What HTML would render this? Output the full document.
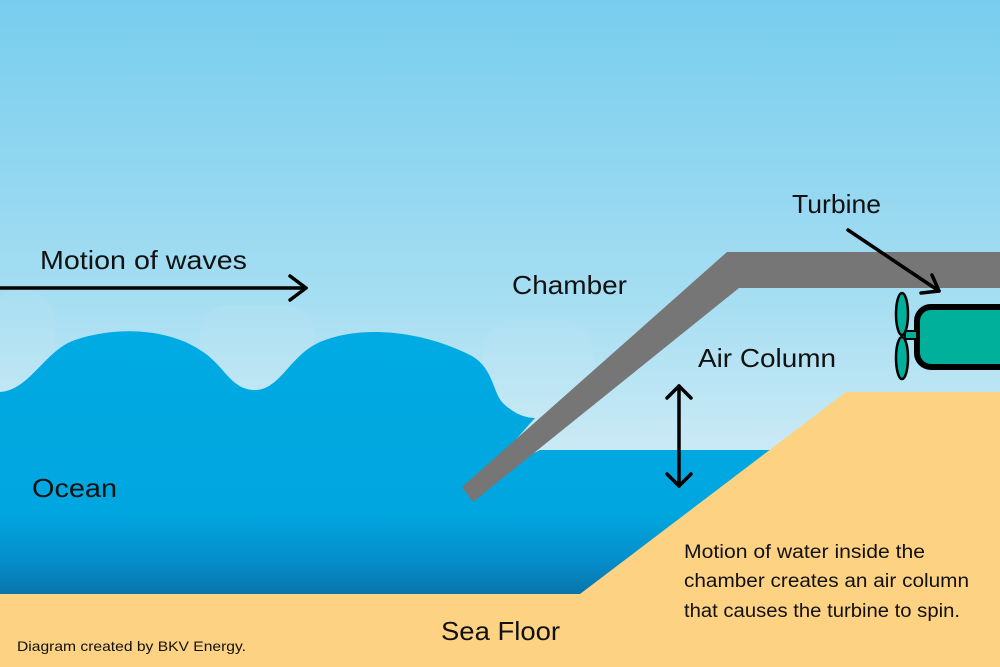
<!DOCTYPE html>
<html><head><meta charset="utf-8"><style>
html,body{margin:0;padding:0;}
svg{display:block;}
text{font-family:"Liberation Sans",sans-serif;fill:#111;}
</style></head><body>
<svg width="1000" height="667" viewBox="0 0 1000 667" xmlns="http://www.w3.org/2000/svg">
<defs>
<linearGradient id="sky" x1="0" y1="0" x2="0" y2="1">
<stop offset="0" stop-color="#78cdee"/><stop offset="0.45" stop-color="#a6def2"/><stop offset="0.75" stop-color="#d6eef6"/><stop offset="1" stop-color="#e0f2f8"/></linearGradient>
<linearGradient id="sea" x1="0" y1="330" x2="0" y2="600" gradientUnits="userSpaceOnUse">
<stop offset="0" stop-color="#00aae2"/><stop offset="0.68" stop-color="#00a6df"/><stop offset="0.85" stop-color="#058fcb"/><stop offset="1" stop-color="#0a70a8"/></linearGradient>
</defs>
<rect width="1000" height="667" fill="url(#sky)"/>
<g fill="#ffffff" opacity="0.06">
<rect x="-10" y="290" width="65" height="110" rx="30"/>
<rect x="200" y="305" width="115" height="90" rx="30"/>
<rect x="483" y="320" width="110" height="100" rx="30"/>
</g>
<path d="M0,392 C30,390 45,350 75,340 C120,325 170,330 200,350 C225,365 230,390 255,390 C280,390 290,355 320,342 C360,325 420,330 470,355 C495,368 492,395 505,405 C515,414 525,418 535,418 L480,480 L540,450 L1000,450 L1000,600 L0,600 Z" fill="url(#sea)"/>
<path d="M0,594 L580,594 L846,392 L1000,392 L1000,667 L0,667 Z" fill="#fdd283"/>
<path d="M462,487 L727,252 L1000,252 L1000,288 L739,288 L473,502 Z" fill="#767676"/>
<rect x="917" y="307" width="100" height="60" rx="14" fill="#00b09a" stroke="#000" stroke-width="6"/>
<rect x="905" y="331" width="12" height="8" fill="#00b09a" stroke="#000" stroke-width="2"/>
<ellipse cx="902" cy="314" rx="6" ry="21" fill="#00b09a" stroke="#000" stroke-width="2.5"/>
<ellipse cx="902" cy="358" rx="6" ry="21" fill="#00b09a" stroke="#000" stroke-width="2.5"/>
<g stroke="#000" stroke-width="3.5" fill="none" stroke-linecap="round" stroke-linejoin="round">
<line x1="0" y1="288" x2="306" y2="288"/>
<polyline points="290,276 306,288 290,300"/>
<line x1="848" y1="230" x2="939" y2="291"/>
<polyline points="921,293 939,291 932,275"/>
<line x1="679" y1="386" x2="679" y2="486"/>
<polyline points="667,398 679,386 691,398"/>
<polyline points="667,474 679,486 691,474"/>
</g>
<text x="40" y="269" font-size="26" textLength="207" lengthAdjust="spacingAndGlyphs">Motion of waves</text>
<text x="512" y="294" font-size="26" textLength="115" lengthAdjust="spacingAndGlyphs">Chamber</text>
<text x="698" y="367" font-size="26" textLength="138" lengthAdjust="spacingAndGlyphs">Air Column</text>
<text x="792" y="213" font-size="26" textLength="89" lengthAdjust="spacingAndGlyphs">Turbine</text>
<text x="32" y="497" font-size="26" textLength="85" lengthAdjust="spacingAndGlyphs">Ocean</text>
<text x="441" y="640" font-size="26" textLength="119" lengthAdjust="spacingAndGlyphs">Sea Floor</text>
<text x="684" y="558" font-size="19" textLength="241" lengthAdjust="spacingAndGlyphs">Motion of water inside the</text>
<text x="684" y="587" font-size="19" textLength="285" lengthAdjust="spacingAndGlyphs">chamber creates an air column</text>
<text x="684" y="617" font-size="19" textLength="276" lengthAdjust="spacingAndGlyphs">that causes the turbine to spin.</text>
<text x="17" y="651" font-size="14" textLength="229" lengthAdjust="spacingAndGlyphs">Diagram created by BKV Energy.</text>
</svg>
</body></html>
